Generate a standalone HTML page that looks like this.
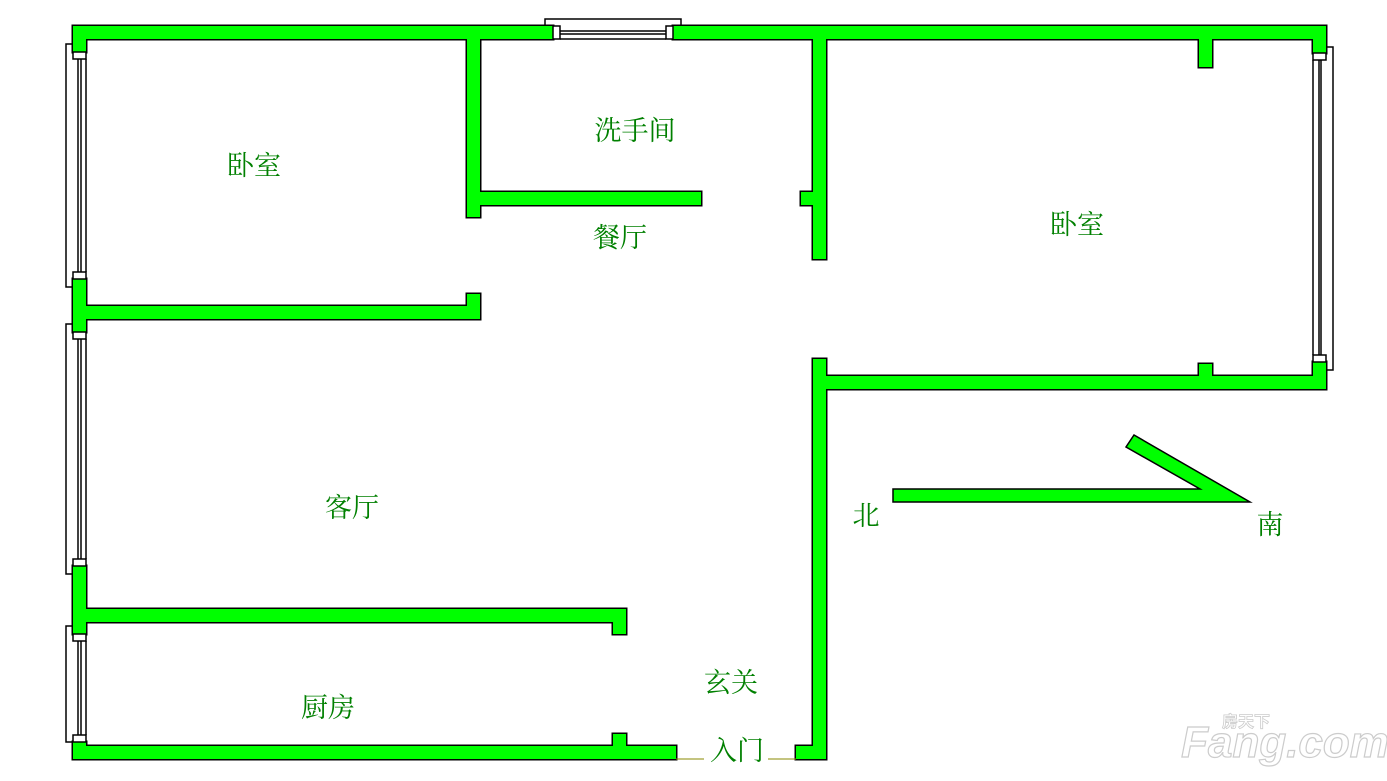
<!DOCTYPE html>
<html><head><meta charset="utf-8"><style>
html,body{margin:0;padding:0;background:#fff;width:1387px;height:781px;overflow:hidden}
svg{display:block}
text{font-family:"Liberation Serif","Noto Serif CJK SC",serif;font-size:27px;fill:#008000}
</style></head><body>
<svg width="1387" height="781" viewBox="0 0 1387 781" xmlns="http://www.w3.org/2000/svg">
<defs>
<g id="walls">
<rect x="73" y="26" width="480" height="13"/>
<rect x="673" y="26" width="653" height="13"/>
<rect x="73" y="26" width="13" height="26"/>
<rect x="73" y="279" width="13" height="53"/>
<rect x="73" y="566" width="13" height="68"/>
<rect x="73" y="742" width="13" height="17"/>
<rect x="1313" y="26" width="13" height="27"/>
<rect x="1313" y="362" width="13" height="27"/>
<rect x="1199" y="26" width="13" height="41"/>
<rect x="813" y="376" width="513" height="13"/>
<rect x="1199" y="364" width="13" height="20"/>
<rect x="813" y="26" width="13" height="233"/>
<rect x="801" y="192" width="20" height="13"/>
<rect x="813" y="359" width="13" height="400"/>
<rect x="467" y="192" width="234" height="13"/>
<rect x="467" y="26" width="13" height="191"/>
<rect x="73" y="306" width="407" height="13"/>
<rect x="467" y="294" width="13" height="20"/>
<rect x="73" y="609" width="553" height="13"/>
<rect x="613" y="614" width="13" height="20"/>
<rect x="73" y="746" width="603" height="13"/>
<rect x="613" y="734" width="13" height="20"/>
<rect x="796" y="746" width="30" height="13"/>
</g>
</defs>
<use href="#walls" fill="#000" stroke="#000" stroke-width="3"/>
<use href="#walls" fill="#00ff00"/>
<g fill="#fff" stroke="#000" stroke-width="1.5">
<polyline points="545,26 545,19 681,19 681,26" fill="none"/>
<rect x="553" y="26" width="7" height="13"/>
<rect x="666" y="26" width="7" height="13"/>
<line x1="560" y1="31" x2="666" y2="31"/>
<line x1="560" y1="34" x2="666" y2="34"/>
<line x1="560" y1="39" x2="666" y2="39"/>
</g>
<g fill="#fff" stroke="#000" stroke-width="1.5">
<polyline points="73,44 66,44 66,287 73,287" fill="none"/>
<rect x="73" y="52" width="13" height="7"/><rect x="73" y="272" width="13" height="7"/>
<line x1="78" y1="59" x2="78" y2="272"/><line x1="81" y1="59" x2="81" y2="272"/><line x1="86" y1="59" x2="86" y2="272"/>
<polyline points="73,324 66,324 66,574 73,574" fill="none"/>
<rect x="73" y="332" width="13" height="7"/><rect x="73" y="559" width="13" height="7"/>
<line x1="78" y1="339" x2="78" y2="559"/><line x1="81" y1="339" x2="81" y2="559"/><line x1="86" y1="339" x2="86" y2="559"/>
<polyline points="73,626 66,626 66,742 73,742" fill="none"/>
<rect x="73" y="634" width="13" height="7"/><rect x="73" y="735" width="13" height="7"/>
<line x1="78" y1="641" x2="78" y2="735"/><line x1="81" y1="641" x2="81" y2="735"/><line x1="86" y1="641" x2="86" y2="735"/>
<polyline points="1326,47 1333,47 1333,370 1326,370" fill="none"/>
<rect x="1313" y="53" width="13" height="7"/><rect x="1313" y="355" width="13" height="7"/>
<line x1="1313" y1="60" x2="1313" y2="355"/><line x1="1319" y1="60" x2="1319" y2="355"/><line x1="1321" y1="60" x2="1321" y2="355"/>
</g>
<line x1="676" y1="759" x2="704" y2="759" stroke="#8a8a00" stroke-width="1"/>
<line x1="768" y1="759" x2="796" y2="759" stroke="#8a8a00" stroke-width="1"/>
<polygon points="893,489 1200,489 1126,447 1134,435 1250,502 893,502" fill="#00ff00" stroke="#000" stroke-width="1.5"/>
<text x="254" y="175" text-anchor="middle">卧室</text>
<text x="635" y="140" text-anchor="middle">洗手间</text>
<text x="620" y="247" text-anchor="middle">餐厅</text>
<text x="1077" y="234" text-anchor="middle">卧室</text>
<text x="352" y="517" text-anchor="middle">客厅</text>
<text x="866" y="525" text-anchor="middle">北</text>
<text x="1270" y="534" text-anchor="middle">南</text>
<text x="328" y="717" text-anchor="middle">厨房</text>
<text x="731" y="692" text-anchor="middle">玄关</text>
<text x="737" y="760" text-anchor="middle">入门</text>
<text x="1285" y="757" text-anchor="middle" style="font-family:'Liberation Sans',sans-serif;font-size:44px;font-weight:bold;font-style:italic;fill:#fff;stroke:#ccc;stroke-width:1.2">Fang.com</text>
<text x="1246" y="727" text-anchor="middle" style="font-family:'Liberation Sans','Noto Sans CJK SC',sans-serif;font-size:16px;font-weight:bold;fill:#fff;stroke:#ccc;stroke-width:0.8">房天下</text>
</svg>
</body></html>
